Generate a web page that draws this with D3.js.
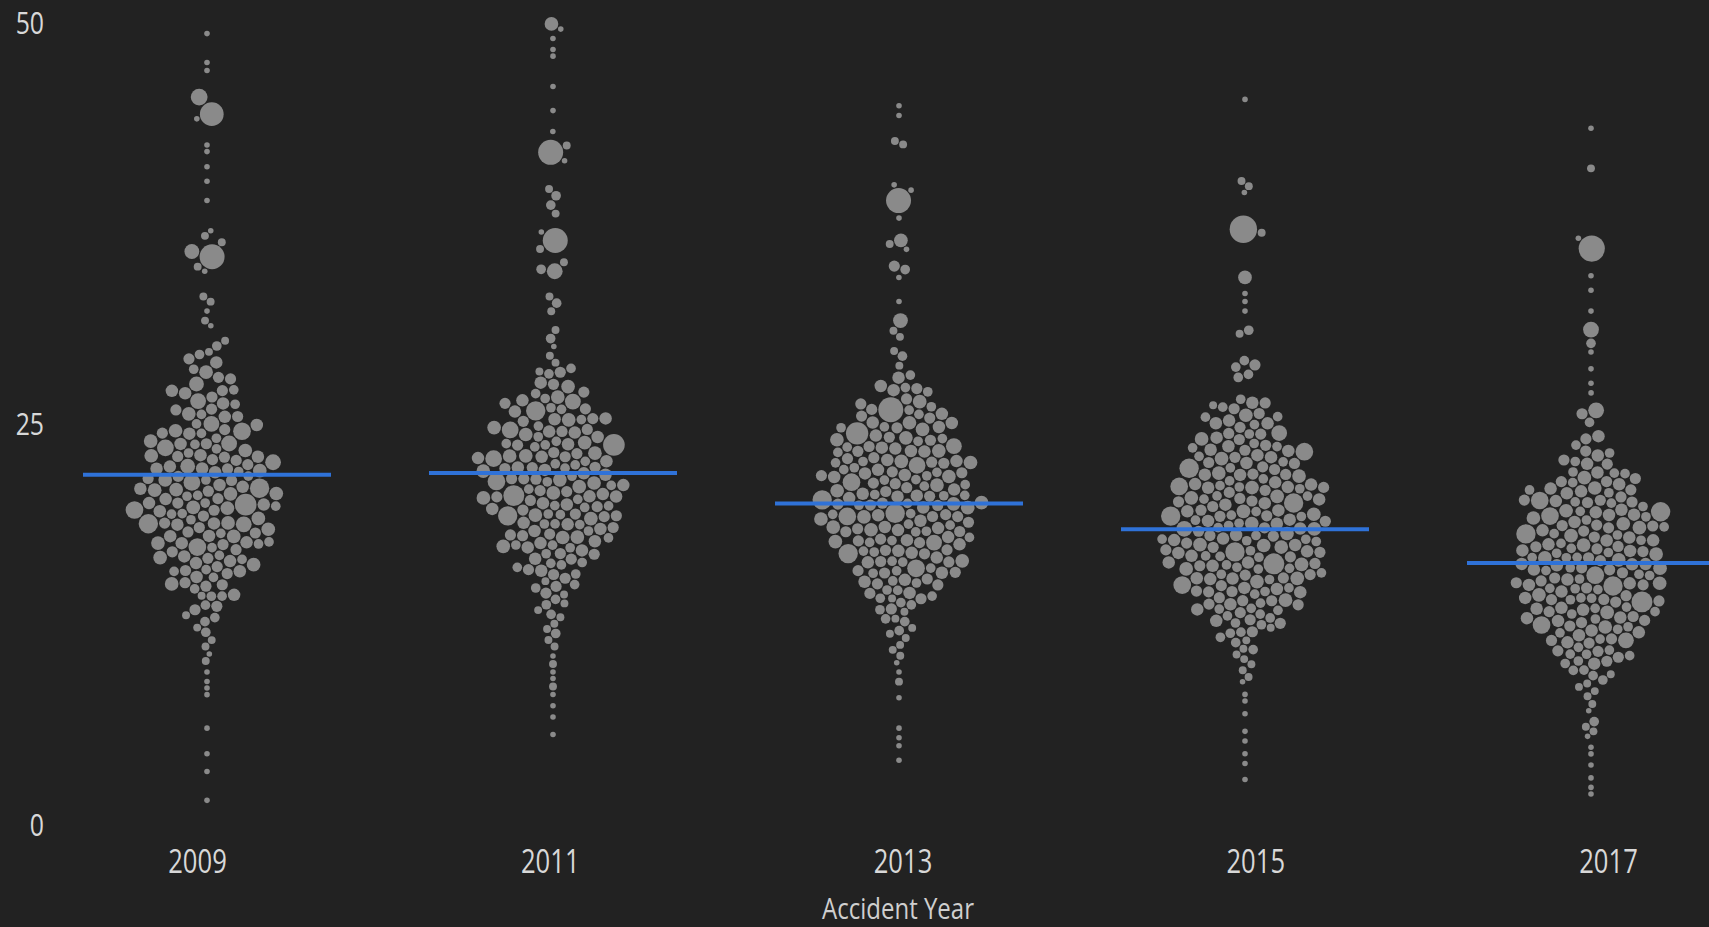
<!DOCTYPE html>
<html>
<head>
<meta charset="utf-8">
<script src="https://cdn.jsdelivr.net/npm/d3@7"></script>
<style>
  html, body { margin: 0; padding: 0; background: #222222; }
  svg { display: block; }
</style>
</head>
<body>
<svg id="chart" width="1709" height="927"></svg>
<script>
// Accident years shown on the axis
const years = [2009, 2011, 2013, 2015, 2017];
const yTicks = [0, 25, 50];
const meanValues = [21.9, 22.0, 20.1, 18.5, 16.4];

// Each record: [value, weight]; weight drives the bubble area
const records2009 = [
  [49.4,1],[47.6,1],[47.1,1],[45.4,9],[44.4,18],[44.1,1],[42.4,1],[42.1,1],[41.1,1],[40.2,1],[39.0,1],
  [37.1,1],[36.8,2],[36.3,2],[35.8,7],[35.5,20],[34.9,2],[34.6,1],[33.0,2],[32.7,2],[32.1,1],[31.5,2],
  [31.2,1],[30.2,2],[29.9,3],[29.6,2],
  [29.4,3],[29.1,4],
  [28.8,5],[28.5,3],[28.3,6],[28.0,4],
  [27.8,4],[27.6,7],[27.3,3],[27.1,5],[27.0,4],
  [26.9,5],[26.6,4],[26.4,8],[26.3,3],[26.1,5],[26.0,4],
  [25.9,4],[25.7,6],[25.5,3],[25.4,5],[25.2,8],[25.1,4],[25.0,3],
  [24.9,5],[24.7,4],[24.6,10],[24.4,3],[24.3,5],[24.2,6],[24.1,4],[24.0,8],[24.0,3],
  [23.9,4],[23.8,6],[23.6,3],[23.5,9],[23.4,5],[23.3,4],[23.2,6],[23.1,3],[23.0,5],[23.0,4],
  [22.9,6],[22.8,4],[22.7,5],[22.6,3],[22.5,8],[22.4,5],[22.3,4],[22.3,6],[22.2,3],[22.1,5],[22.0,4],[22.0,7],[22.6,4],
  [21.9,5],[21.8,3],[21.7,6],[21.6,4],[21.5,9],[21.4,5],[21.3,3],[21.2,6],[21.2,4],[21.1,5],[21.0,3],[21.0,6],[21.5,4],[21.8,5],
  [20.9,4],[20.8,12],[20.7,5],[20.6,3],[20.5,6],[20.4,4],[20.3,15],[20.2,5],[20.1,3],[20.0,6],[20.0,4],[20.6,5],[20.4,3],[20.9,6],
  [19.9,5],[19.8,4],[19.7,10],[19.6,3],[19.5,6],[19.4,5],[19.3,12],[19.2,4],[19.1,3],[19.0,5],[19.0,6],[19.5,4],[19.8,3],[19.2,5],
  [18.9,6],[18.8,4],[18.6,8],[18.5,3],[18.4,5],[18.3,4],[18.2,6],[18.1,3],[18.0,5],[18.7,4],[18.4,6],[18.0,3],
  [17.9,5],[17.7,4],[17.6,6],[17.5,3],[17.3,10],[17.2,4],[17.1,5],[17.0,3],[17.4,5],[17.8,4],[17.0,6],
  [16.9,4],[16.7,5],[16.5,3],[16.4,6],[16.2,4],[16.1,5],[16.0,3],[16.6,4],[16.3,5],
  [15.9,4],[15.7,3],[15.5,5],[15.4,4],[15.2,6],[15.1,3],[15.0,4],[15.6,3],
  [14.8,4],[14.6,3],[14.4,5],[14.2,3],[14.0,4],[14.5,2],
  [13.8,3],[13.5,4],[13.2,2],[13.0,3],
  [12.7,3],[12.4,2],[12.1,3],
  [11.6,2],[11.2,2],
  [10.7,1],[10.3,2],
  [9.6,1],[9.0,1],[8.6,1],[8.2,1],[6.1,1],[4.5,1],[3.4,1],[1.6,1]
];

const records2011 = [
  [50.0,6],[49.7,1],[49.1,1],[48.4,1],[48.0,1],[46.1,1],[44.6,1],[43.3,1],[42.4,2],[42.0,20],[41.5,1],
  [39.7,2],[39.3,3],[38.7,3],[38.2,2],[37.0,1],[36.5,20],[36.0,2],[35.1,2],[34.7,3],[34.6,8],[33.0,2],
  [32.6,3],[32.1,2],[30.9,2],[30.4,3],[29.9,1],[29.3,2],[28.9,2],[28.5,3],[28.1,2],
  [28.3,4],[28.0,3],
  [27.8,5],[27.5,4],[27.3,6],[27.0,3],
  [26.9,4],[26.7,6],[26.5,3],[26.4,8],[26.2,4],[26.1,5],[26.0,3],
  [25.9,5],[25.8,4],[25.6,12],[25.5,3],[25.4,5],[25.3,4],[25.2,6],[25.1,3],[25.0,5],
  [24.9,4],[24.8,6],[24.6,3],[24.5,9],[24.4,5],[24.3,4],[24.2,6],[24.1,3],[24.0,5],[24.7,4],[24.3,3],
  [23.9,5],[23.8,4],[23.7,15],[23.6,3],[23.5,5],[23.4,4],[23.3,6],[23.2,3],[23.1,5],[23.0,4],[23.5,6],[23.8,3],[23.2,4],
  [22.9,5],[22.8,3],[22.7,6],[22.6,4],[22.5,9],[22.4,5],[22.3,3],[22.2,6],[22.1,4],[22.0,5],[22.0,3],[22.6,5],[22.3,4],[22.8,6],[22.1,3],
  [21.9,4],[21.8,6],[21.7,3],[21.6,10],[21.5,5],[21.4,4],[21.3,6],[21.2,3],[21.1,5],[21.0,4],[21.5,3],[21.2,6],[21.8,4],[21.0,5],[21.4,3],[21.7,5],
  [20.9,5],[20.8,4],[20.7,14],[20.6,3],[20.5,5],[20.4,6],[20.3,4],[20.2,3],[20.1,5],[20.0,4],[20.5,3],[20.8,6],[20.2,5],[20.0,3],[20.6,4],
  [19.9,4],[19.8,5],[19.7,3],[19.6,12],[19.5,4],[19.4,6],[19.3,3],[19.2,5],[19.1,4],[19.0,3],[19.5,5],[19.8,3],[19.2,6],[19.0,4],
  [18.9,5],[18.7,4],[18.6,6],[18.5,3],[18.4,5],[18.3,4],[18.2,3],[18.1,6],[18.0,4],[18.6,3],[18.3,5],[18.8,3],
  [17.9,4],[17.7,5],[17.6,3],[17.5,6],[17.3,4],[17.2,3],[17.1,5],[17.0,4],[17.4,3],[17.8,5],
  [16.9,4],[16.7,3],[16.5,5],[16.4,3],[16.2,4],[16.1,3],[16.0,5],[16.6,3],
  [15.8,4],[15.6,3],[15.4,4],[15.2,3],[15.0,4],[15.5,2],
  [14.8,3],[14.6,4],[14.3,2],[14.1,3],[14.0,2],
  [13.8,3],[13.5,2],[13.2,3],[13.0,2],
  [12.6,2],[12.3,2],[12.0,3],
  [11.6,2],[11.2,2],
  [10.6,1],[10.1,2],[9.6,1],[9.2,1],[8.7,2],[8.2,1],[7.5,1],[6.8,1],[5.7,1]
];

const records2013 = [
  [44.9,1],[44.3,1],[42.7,2],[42.5,2],[39.9,1],[39.6,1],[39.0,20],[37.9,1],[36.5,6],[36.3,2],[36.0,1],
  [34.9,4],[34.7,3],[34.2,1],[32.7,1],[31.5,7],[30.9,2],[30.5,2],[29.6,2],[29.3,3],[28.7,2],[28.1,3],[27.7,5],
  [27.4,5],[27.1,3],[27.0,4],
  [26.9,3],[26.7,5],[26.5,4],[26.3,6],[26.1,3],[26.0,4],
  [25.9,20],[25.8,4],[25.6,3],[25.5,5],[25.4,4],[25.3,6],[25.2,3],[25.1,5],[25.0,4],
  [24.9,5],[24.8,3],[24.6,6],[24.5,4],[24.3,16],[24.2,3],[24.1,5],[24.0,4],[24.7,3],[24.4,5],[24.0,6],
  [23.9,4],[23.8,6],[23.7,3],[23.6,5],[23.5,4],[23.4,8],[23.3,3],[23.2,5],[23.1,4],[23.0,6],[23.6,3],[23.3,5],[23.8,4],
  [22.9,5],[22.8,3],[22.7,6],[22.6,4],[22.5,5],[22.4,3],[22.3,9],[22.2,4],[22.1,5],[22.0,3],[22.6,6],[22.4,4],[22.8,5],[22.1,3],[22.5,4],
  [21.9,4],[21.8,5],[21.7,3],[21.6,6],[21.5,4],[21.4,5],[21.3,3],[21.2,10],[21.1,4],[21.0,5],[21.6,3],[21.3,6],[21.8,4],[21.1,3],[21.5,5],[21.9,3],[21.0,4],
  [20.9,5],[20.8,4],[20.7,6],[20.6,3],[20.5,12],[20.4,4],[20.3,5],[20.2,3],[20.1,6],[20.0,4],[20.6,5],[20.3,3],[20.8,4],[20.0,6],[20.4,3],[20.7,5],[20.2,4],[20.9,3],
  [19.9,6],[19.8,4],[19.7,5],[19.6,12],[19.5,4],[19.4,5],[19.3,3],[19.2,6],[19.1,4],[19.0,5],[19.6,3],[19.3,6],[19.8,3],[19.0,4],[19.5,5],[19.1,3],[19.7,4],[19.4,10],
  [18.9,4],[18.8,5],[18.7,3],[18.6,6],[18.5,4],[18.4,5],[18.3,3],[18.2,8],[18.1,4],[18.0,5],[18.6,3],[18.3,4],[18.8,6],[18.0,3],[18.5,5],[18.1,4],
  [17.9,5],[17.8,4],[17.6,6],[17.5,3],[17.4,5],[17.3,12],[17.2,4],[17.1,3],[17.0,5],[17.7,4],[17.4,3],[17.0,4],[17.8,3],[17.2,5],
  [16.9,4],[16.7,5],[16.6,3],[16.5,6],[16.3,4],[16.2,3],[16.1,5],[16.0,4],[16.4,10],[16.8,3],[16.0,3],[16.6,4],
  [15.9,4],[15.7,3],[15.6,5],[15.4,4],[15.3,3],[15.2,5],[15.0,4],[15.5,3],[15.8,4],[15.1,3],
  [14.8,4],[14.6,3],[14.5,5],[14.3,3],[14.2,4],[14.0,3],[14.7,3],[14.4,2],
  [13.8,3],[13.6,4],[13.4,3],[13.2,3],[13.0,2],[13.5,2],
  [12.7,3],[12.4,2],[12.2,3],[12.0,2],
  [11.7,2],[11.3,2],[11.0,2],
  [10.6,2],[10.2,1],
  [9.6,1],[9.0,2],[8.0,1],[6.1,1],[5.5,1],[5.0,1],[4.1,1]
];

const records2015 = [
  [45.3,1],[40.2,2],[39.9,2],[39.5,1],[37.2,24],[37.0,2],[34.2,6],[33.2,1],[32.7,1],[32.1,1],[30.9,3],
  [30.7,2],[29.0,3],[28.7,4],[28.5,3],[28.2,3],[28.1,3],[26.6,3],[26.2,2],[25.9,4],[25.4,3],
  [26.3,4],[26.1,3],[26.0,5],
  [25.8,4],[25.6,6],[25.4,3],[25.2,5],[25.0,4],
  [24.9,5],[24.7,3],[24.5,8],[24.4,4],[24.2,5],[24.1,3],[24.0,4],[24.6,5],
  [23.9,4],[23.8,6],[23.6,3],[23.5,5],[23.4,4],[23.3,10],[23.2,3],[23.1,5],[23.0,4],[23.7,3],[23.4,5],
  [22.9,5],[22.8,4],[22.7,3],[22.6,6],[22.5,4],[22.4,5],[22.3,3],[22.2,12],[22.1,4],[22.0,5],[22.6,3],[22.8,5],[22.3,4],
  [21.9,4],[21.8,5],[21.7,3],[21.6,6],[21.5,4],[21.4,5],[21.3,3],[21.2,6],[21.1,4],[21.0,10],[21.6,3],[21.3,5],[21.8,4],[21.1,3],[21.5,5],
  [20.9,5],[20.8,3],[20.7,6],[20.6,4],[20.5,5],[20.4,3],[20.3,6],[20.2,4],[20.1,12],[20.0,5],[20.6,3],[20.3,4],[20.8,5],[20.0,3],[20.4,6],[20.7,4],
  [19.9,4],[19.8,5],[19.7,3],[19.6,6],[19.5,4],[19.4,12],[19.3,3],[19.2,5],[19.1,4],[19.0,6],[19.6,3],[19.3,5],[19.8,4],[19.0,3],[19.5,5],[19.1,3],[19.7,4],
  [18.9,5],[18.8,4],[18.7,6],[18.6,3],[18.5,5],[18.4,4],[18.3,8],[18.2,3],[18.1,5],[18.0,4],[18.6,6],[18.3,3],[18.8,5],[18.0,3],[18.5,4],[18.1,6],[18.7,3],[18.4,5],
  [17.9,4],[17.8,6],[17.7,3],[17.6,5],[17.5,4],[17.4,6],[17.3,3],[17.2,5],[17.1,4],[17.0,12],[17.6,3],[17.3,5],[17.8,4],[17.0,3],[17.5,6],[17.1,3],[17.7,5],[17.4,4],
  [16.9,5],[16.8,4],[16.7,14],[16.6,3],[16.5,5],[16.4,4],[16.3,6],[16.2,3],[16.1,5],[16.0,4],[16.6,6],[16.3,3],[16.8,5],[16.0,3],[16.5,4],[16.1,6],[16.4,3],
  [15.9,4],[15.8,5],[15.7,3],[15.6,6],[15.5,4],[15.4,5],[15.3,3],[15.2,10],[15.1,4],[15.0,5],[15.6,3],[15.3,4],[15.8,3],[15.0,4],[15.5,5],
  [14.9,4],[14.8,3],[14.6,5],[14.5,4],[14.4,6],[14.3,3],[14.2,5],[14.1,4],[14.0,3],[14.7,4],[14.5,3],[14.2,4],[14.8,5],
  [13.9,4],[13.7,3],[13.6,5],[13.5,4],[13.3,3],[13.2,5],[13.1,3],[13.0,4],[13.4,3],[13.8,3],
  [12.9,3],[12.7,4],[12.5,3],[12.3,4],[12.2,3],[12.0,3],[12.6,2],
  [11.8,3],[11.6,2],[11.4,3],[11.2,2],[11.0,3],
  [10.7,2],[10.4,2],[10.1,2],
  [9.7,2],[9.3,2],
  [9.0,1],[8.2,1],[7.8,1],[7.0,1],[5.9,1],[5.3,1],[4.5,1],[3.9,1],[2.9,1]
];

const records2017 = [
  [43.5,1],[41.0,2],[36.6,1],[36.0,22],[34.3,1],[33.4,1],[32.1,1],[30.9,8],[30.2,3],[29.6,1],[28.5,1],
  [27.6,1],[27.0,1],[25.9,8],[25.7,4],[25.2,3],[24.3,5],[24.0,4],[23.7,3],
  [23.4,4],[23.1,3],[23.0,5],
  [22.8,4],[22.6,3],[22.4,5],[22.2,4],[22.0,3],
  [21.9,5],[21.7,4],[21.6,3],[21.5,6],[21.3,4],[21.2,5],[21.1,3],[21.0,4],[21.4,3],
  [20.9,5],[20.8,4],[20.7,6],[20.6,3],[20.5,5],[20.4,10],[20.3,4],[20.2,3],[20.1,5],[20.0,4],[20.6,3],[20.8,5],
  [19.9,4],[19.8,6],[19.7,3],[19.6,5],[19.5,4],[19.4,12],[19.3,3],[19.2,5],[19.1,4],[19.0,6],[19.6,3],[19.3,5],[19.8,4],[19.0,3],
  [18.9,5],[18.8,4],[18.7,3],[18.6,6],[18.5,4],[18.4,5],[18.3,3],[18.2,12],[18.1,4],[18.0,5],[18.6,3],[18.3,4],[18.8,6],[18.0,3],[18.5,5],[18.9,10],
  [17.9,4],[17.8,5],[17.7,3],[17.6,6],[17.5,4],[17.4,5],[17.3,3],[17.2,6],[17.1,4],[17.0,5],[17.6,3],[17.3,4],[17.8,6],[17.0,3],[17.5,5],[17.1,3],[17.7,4],
  [16.9,5],[16.8,3],[16.7,6],[16.6,4],[16.5,5],[16.4,3],[16.3,6],[16.2,4],[16.1,5],[16.0,3],[16.6,5],[16.3,4],[16.8,3],[16.0,6],[16.5,3],[16.1,4],[16.4,5],
  [15.9,4],[15.8,10],[15.7,3],[15.6,5],[15.5,4],[15.4,6],[15.3,3],[15.2,5],[15.1,4],[15.0,12],[15.6,3],[15.3,4],[15.8,5],[15.0,3],[15.5,4],[15.2,3],
  [14.9,5],[14.8,4],[14.7,3],[14.6,6],[14.5,4],[14.4,5],[14.3,3],[14.2,14],[14.1,4],[14.0,5],[14.6,3],[14.3,4],[14.8,5],[14.0,3],[14.5,4],
  [13.9,4],[13.8,5],[13.7,3],[13.6,6],[13.5,4],[13.4,5],[13.3,3],[13.2,5],[13.1,4],[13.0,10],[13.6,3],[13.3,4],[13.8,3],[13.1,5],
  [12.9,4],[12.8,3],[12.7,5],[12.6,4],[12.5,6],[12.4,3],[12.3,5],[12.2,4],[12.1,3],[12.0,5],[12.6,3],[12.3,8],
  [11.9,4],[11.8,3],[11.7,5],[11.6,4],[11.5,3],[11.4,5],[11.3,3],[11.2,4],[11.1,3],[11.0,4],
  [10.9,3],[10.7,4],[10.6,3],[10.4,4],[10.3,3],[10.2,5],[10.1,3],[10.0,3],
  [9.8,3],[9.6,3],[9.4,2],[9.2,3],[9.0,2],
  [8.7,2],[8.4,2],[8.1,2],
  [7.6,2],[7.2,1],
  [6.5,3],[6.2,2],[5.9,2],[5.6,1],
  [4.9,1],[4.5,1],[3.8,1],[3.0,1],[2.4,1],[2.0,1]
];

const recordsByYear = [records2009, records2011, records2013, records2015, records2017];

const svg = d3.select("#chart");

const FONT = "'Open Sans', 'Noto Sans', sans-serif";
const SQUEEZE = "scale(0.8,1)";

// Value axis
const y = d3.scaleLinear().domain([0, 50]).range([826, 24]);

// Swarm centres and axis label positions
const xSwarm = d3.scalePoint().domain(years).range([207, 1591]);
const xLabel = d3.scalePoint().domain(years).range([197, 1608]);

// Bubble radius from weight
const r = d3.scaleSqrt().domain([0, 20]).range([0, 12.5]);

// Beeswarm layout for each year
const nodes = [];
years.forEach((yr, i) => {
  const cx = xSwarm(yr);
  const group = recordsByYear[i].map(([v, w]) => ({
    year: yr, value: v, weight: w, r: r(w),
    x: cx, y: y(v)
  }));
  const sim = d3.forceSimulation(group)
    .force("x", d3.forceX(cx).strength(0.06))
    .force("y", d3.forceY(d => y(d.value)).strength(0.9))
    .force("collide", d3.forceCollide(d => d.r + 0.5).iterations(4))
    .stop();
  for (let k = 0; k < 400; k++) sim.tick();
  nodes.push(...group);
});

svg.append("g")
  .selectAll("circle")
  .data(nodes)
  .join("circle")
  .attr("cx", d => d.x)
  .attr("cy", d => d.y)
  .attr("r", d => d.r)
  .attr("fill", "#8a8a8a");

// Mean line per year
svg.append("g")
  .selectAll("line")
  .data(years.map((yr, i) => ({ year: yr, mean: meanValues[i] })))
  .join("line")
  .attr("x1", d => xSwarm(d.year) - 124)
  .attr("x2", d => xSwarm(d.year) + 124)
  .attr("y1", d => y(d.mean))
  .attr("y2", d => y(d.mean))
  .attr("stroke", "#2f72d8")
  .attr("stroke-width", 4);

// Y axis labels
const yAxis = svg.append("g")
  .attr("transform", "translate(52,0)")
  .call(d3.axisLeft(y).tickValues(yTicks).tickSize(0).tickPadding(10));
yAxis.select(".domain").remove();
yAxis.selectAll("text")
  .attr("fill", "#d8d8d8")
  .style("font-family", FONT)
  .style("font-size", "31px")
  .attr("transform", SQUEEZE);

// X axis labels
const xAxis = svg.append("g")
  .attr("transform", "translate(0,842)")
  .call(d3.axisBottom(xLabel).tickSize(0).tickPadding(8).tickFormat(d3.format("d")));
xAxis.select(".domain").remove();
xAxis.selectAll("text")
  .attr("fill", "#d8d8d8")
  .style("font-family", FONT)
  .style("font-size", "32px")
  .attr("transform", SQUEEZE);

// Axis title
svg.append("text")
  .attr("transform", `translate(898,919) ${SQUEEZE}`)
  .attr("text-anchor", "middle")
  .attr("fill", "#cfcfcf")
  .style("font-family", FONT)
  .style("font-size", "30px")
  .text("Accident Year");
</script>
</body>
</html>
